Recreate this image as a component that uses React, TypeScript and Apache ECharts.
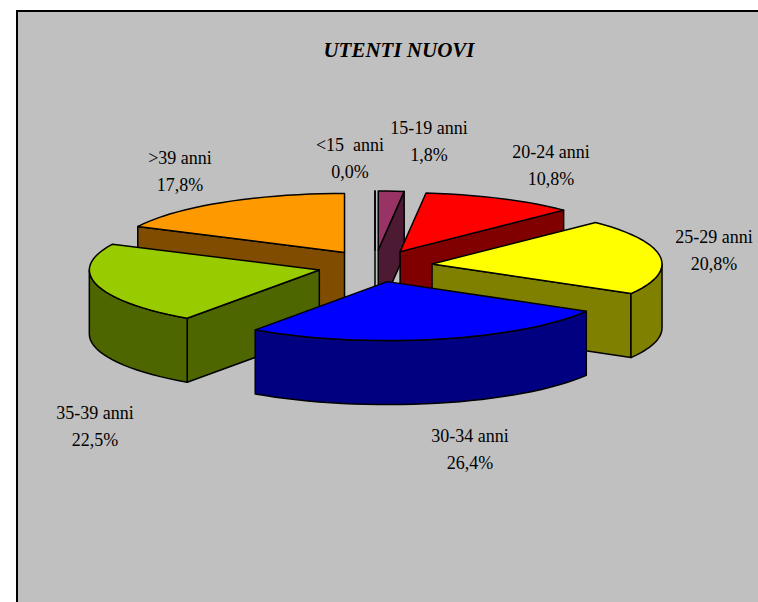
import React, { useEffect, useRef } from "react";
import * as echarts from "echarts";

const categories = ["<15  anni", "15-19 anni", "20-24 anni", "25-29 anni", "30-34 anni", "35-39 anni", ">39 anni"];
const shares = [0.0, 1.8, 10.8, 20.8, 26.4, 22.5, 17.8];
const topColors = ["#FFFFFF", "#993366", "#FF0000", "#FFFF00", "#0000FF", "#99CC00", "#FF9900"];
const sideColors = ["#808080", "#4D1A33", "#800000", "#808000", "#000080", "#4D6600", "#804D00"];
const titleText = "UTENTI NUOVI";

// Layout of the tilted pie (pixels)
const CX = 375;
const CY = 266;
const RX = 230;
const RY = 59;
const DEPTH = 64;
const EXPLODE_X = 57.5;
const EXPLODE_Y = 16;
const labelCenters = [
  [350, 158.5],
  [429, 141.5],
  [551, 165.5],
  [714, 250.5],
  [470, 449.5],
  [95, 426.5],
  [180, 171],
];

const FONT = '"Liberation Serif", "Times New Roman", serif';
const total = shares.reduce((a, b) => a + b, 0);
const rad = (d: number) => (d * Math.PI) / 180;

const rows: number[][] = [];
let cumulative = 0;
shares.forEach((v, i) => {
  const start = (cumulative / total) * 360;
  cumulative += v;
  const end = (cumulative / total) * 360;
  rows.push([v, start, end, i]);
});
// painter's order: slices further back (smaller screen y of exploded apex) first
rows.sort((a, b) => -Math.cos(rad((a[1] + a[2]) / 2)) - -Math.cos(rad((b[1] + b[2]) / 2)));

function arcPoints(ax: number, ay: number, from: number, to: number, dy: number) {
  const pts: number[][] = [];
  const n = Math.max(1, Math.ceil((to - from) / 3));
  for (let k = 0; k <= n; k++) {
    const t = rad(from + ((to - from) * k) / n);
    pts.push([ax + RX * Math.sin(t), ay - RY * Math.cos(t) + dy]);
  }
  return pts;
}

const renderItem = (_params: any, api: any) => {
  const start = api.value(1) as number;
  const end = api.value(2) as number;
  const idx = api.value(3) as number;
  const mid = rad((start + end) / 2);
  const ax = CX + EXPLODE_X * Math.sin(mid);
  const ay = CY - EXPLODE_Y * Math.cos(mid);
  const lineStyle = { stroke: "#000", lineWidth: 1.5, lineJoin: "round" };
  const children: any[] = [];
  const side = (points: number[][]) =>
    children.push({
      type: "polygon",
      shape: { points },
      style: { fill: sideColors[idx], ...lineStyle },
    });
  const radialFace = (angle: number) => {
    const t = rad(angle);
    const ox = ax + RX * Math.sin(t);
    const oy = ay - RY * Math.cos(t);
    side([[ax, ay], [ox, oy], [ox, oy + DEPTH], [ax, ay + DEPTH]]);
  };
  if (Math.sin(rad(start)) < -1e-9) radialFace(start);
  if (Math.sin(rad(end)) > -1e-9 && end < 359.9) radialFace(end);
  const wallFrom = Math.max(start, 90);
  const wallTo = Math.min(end, 270);
  if (wallTo > wallFrom) {
    side([
      ...arcPoints(ax, ay, wallFrom, wallTo, 0),
      ...arcPoints(ax, ay, wallFrom, wallTo, DEPTH).reverse(),
    ]);
  }
  children.push({
    type: "polygon",
    shape: { points: [[ax, ay], ...arcPoints(ax, ay, start, end, 0)] },
    style: { fill: topColors[idx], ...lineStyle },
  });
  const [lx, ly] = labelCenters[idx];
  children.push({
    type: "text",
    style: {
      text: `${categories[idx]}\n${(api.value(0) as number).toFixed(1).replace(".", ",")}%`,
      x: lx,
      y: ly,
      align: "center",
      verticalAlign: "middle",
      fill: "#000",
      font: `18px ${FONT}`,
      lineHeight: 27,
    },
  });
  return { type: "group", children };
};

export default function App() {
  const ref = useRef<HTMLDivElement>(null);
  useEffect(() => {
    const chart = echarts.init(ref.current!, undefined, { renderer: "svg" });
    chart.setOption({
      animation: false,
      backgroundColor: "#FFFFFF",
      title: {
        text: titleText,
        left: 394,
        top: 45,
        textAlign: "center",
        textVerticalAlign: "middle",
        textStyle: {
          fontFamily: FONT,
          fontSize: 21,
          fontWeight: "bold",
          fontStyle: "italic",
          color: "#000",
        },
      },
      graphic: [
        {
          type: "rect",
          z: -10,
          shape: { x: 17, y: 11, width: 800, height: 700 },
          style: { fill: "#C0C0C0", stroke: "#000", lineWidth: 2 },
        },
      ],
      series: [
        {
          type: "custom",
          coordinateSystem: "none",
          renderItem,
          data: rows,
          clip: false,
          silent: true,
        },
      ],
    });
    return () => chart.dispose();
  }, []);
  return (
    <div
      ref={ref}
      style={{ position: "fixed", left: 0, top: 0, width: 758, height: 602, overflow: "hidden" }}
    />
  );
}
